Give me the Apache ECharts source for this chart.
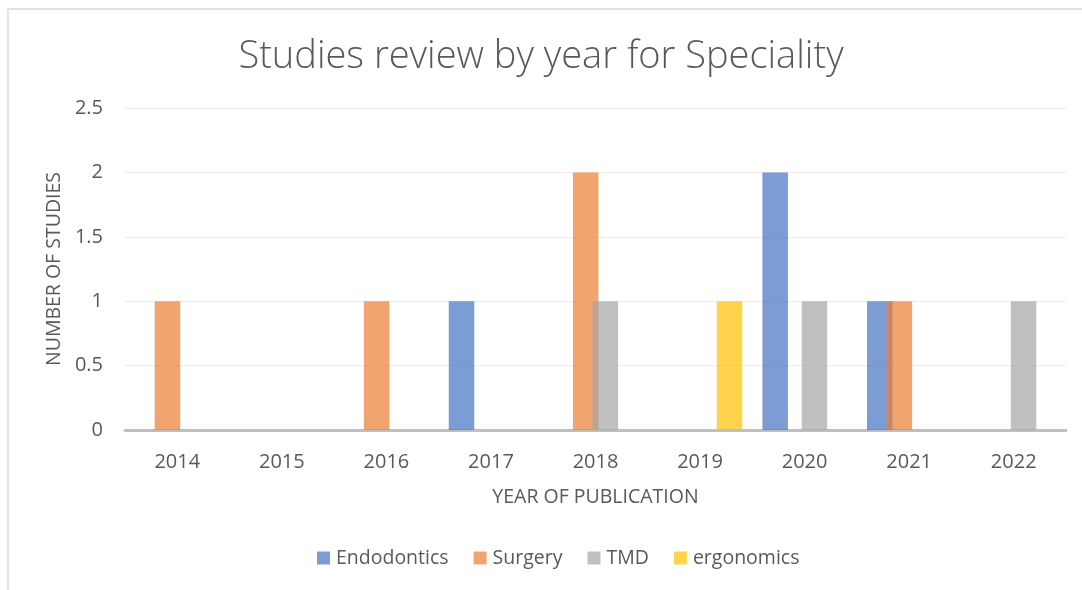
<!DOCTYPE html>
<html>
<head>
	<meta charset="utf-8" />
	<title>Studies review by year for Speciality</title>
	<script src="https://cdn.jsdelivr.net/npm/echarts@6.0.0/dist/echarts.min.js"></script>
	<style>
		html, body { margin: 0; padding: 0; background: #fff; }
		#chart { width: 1082px; height: 590px; }
	</style>
</head>
<body>
	<div id="chart"></div>
	<script type="text/javascript">
		// data
		var years = ['2014', '2015', '2016', '2017', '2018', '2019', '2020', '2021', '2022'];
		var endodontics = [0, 0, 0, 1, 0, 0, 2, 1, 0];
		var surgery = [1, 0, 1, 0, 2, 0, 0, 1, 0];
		var tmd = [0, 0, 0, 0, 1, 0, 1, 0, 1];
		var ergonomics = [0, 0, 0, 0, 0, 1, 0, 0, 0];
		var yTicks = [0, 0.5, 1, 1.5, 2, 2.5];

		var font = '"Open Sans", sans-serif';
		var grey = '#595959';

		function bar(name, data, color) {
			return {
				name: name,
				type: 'bar',
				data: data,
				barWidth: 25.5,
				barGap: '-23%',
				itemStyle: { color: color, opacity: 0.7 }
			};
		}

		var myChart = echarts.init(document.getElementById('chart'), null, { renderer: 'canvas' });

		var option = {
			animation: false,
			backgroundColor: '#fff',
			color: ['#4472C4', '#ED7D31', '#A5A5A5', '#FFC000'],
			title: {
				text: 'Studies review by year for Speciality',
				left: 'center',
				top: 33,
				textStyle: { fontFamily: font, fontSize: 38, fontWeight: 300, color: grey }
			},
			graphic: [{
				type: 'rect',
				shape: { x: 8, y: 9, width: 2000, height: 2000 },
				style: { fill: 'none', stroke: '#D9D9D9', lineWidth: 1.5 },
				silent: true
			}],
			legend: {
				bottom: 17,
				left: 312,
				itemWidth: 13,
				itemHeight: 13,
				itemGap: 25,
				icon: 'rect',
				textStyle: { fontFamily: font, fontSize: 19.5, color: grey, padding: [0, 0, 0, 1] },
				data: ['Endodontics', 'Surgery', 'TMD', 'ergonomics']
			},
			grid: { left: 125, right: 16, top: 108, bottom: 160 },
			xAxis: {
				type: 'category',
				data: years,
				name: 'YEAR OF PUBLICATION',
				nameLocation: 'middle',
				nameGap: 57,
				nameTextStyle: { fontFamily: font, fontSize: 19.5, color: grey },
				axisLine: { lineStyle: { color: '#BFBFBF', width: 3 } },
				axisTick: { show: false },
				axisLabel: { fontFamily: font, fontSize: 20, color: grey, margin: 22 }
			},
			yAxis: {
				type: 'value',
				min: yTicks[0],
				max: yTicks[yTicks.length - 1],
				interval: yTicks[1] - yTicks[0],
				name: 'NUMBER OF STUDIES',
				nameLocation: 'middle',
				nameGap: 59,
				nameRotate: 90,
				nameTextStyle: { fontFamily: font, fontSize: 19.5, color: grey },
				axisLine: { show: false },
				axisTick: { show: false },
				axisLabel: { fontFamily: font, fontSize: 20, color: grey, margin: 22 },
				splitLine: { lineStyle: { color: '#EBEBEB', width: 1 } }
			},
			series: [
				bar('Endodontics', endodontics),
				bar('Surgery', surgery),
				bar('TMD', tmd),
				bar('ergonomics', ergonomics)
			]
		};

		myChart.setOption(option);
		window.addEventListener('resize', myChart.resize);
	</script>
</body>
</html>
